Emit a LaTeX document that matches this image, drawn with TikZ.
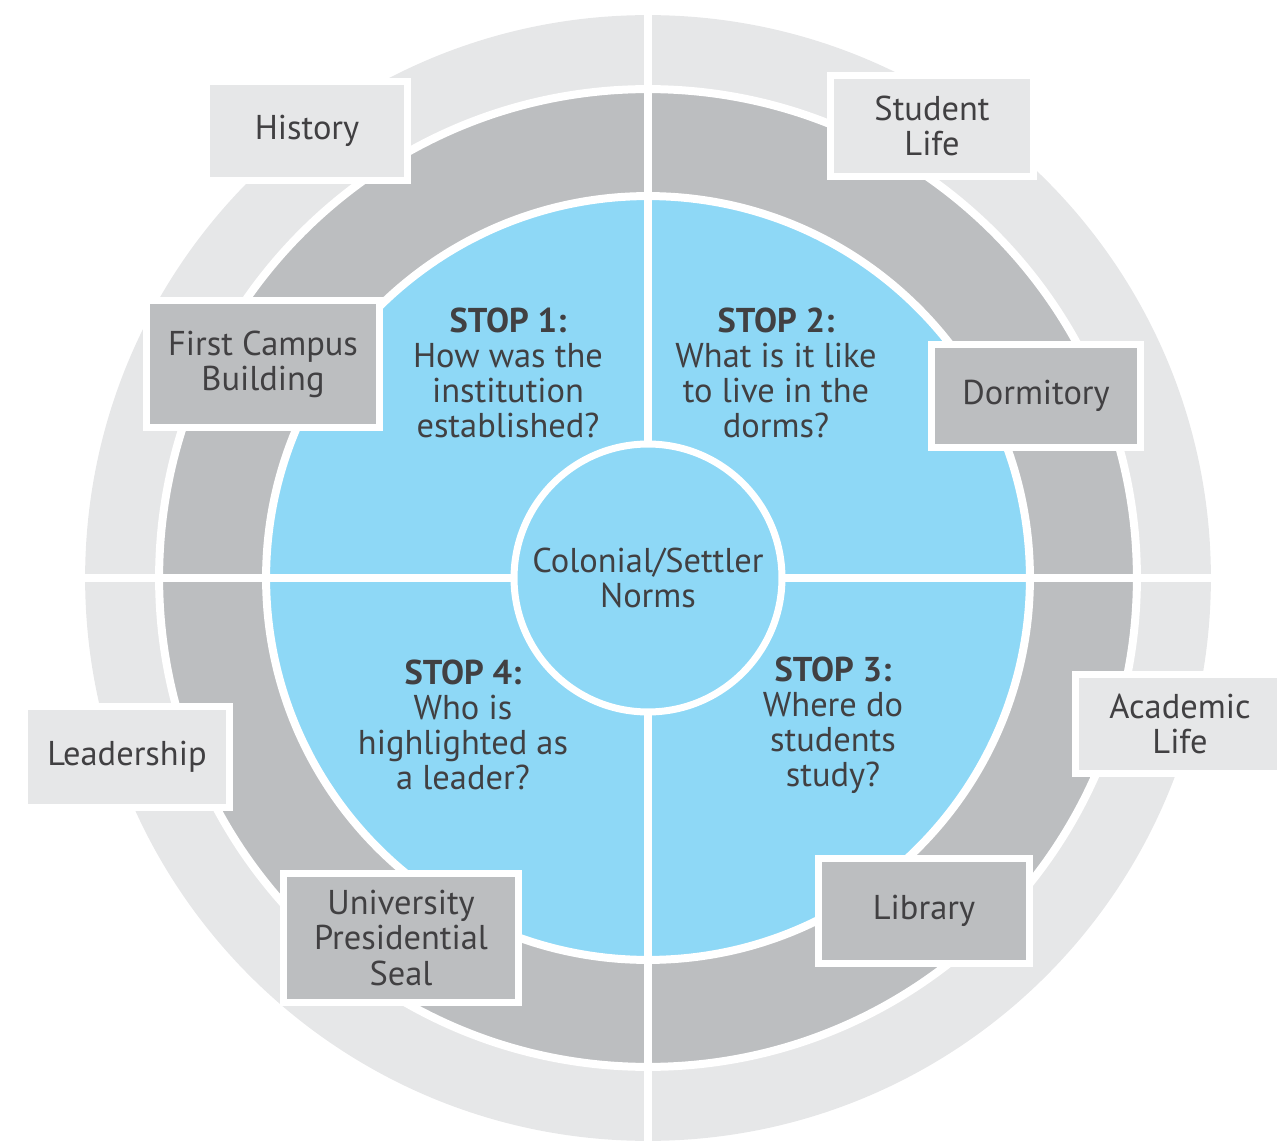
\documentclass[tikz,border=0pt]{standalone}
\usepackage{fontspec}
\setmainfont{PT Sans}
\usepackage{tikz}
\usetikzlibrary{calc}

\definecolor{ringlight}{HTML}{E6E7E8}
\definecolor{ringdark}{HTML}{BCBEC0}
\definecolor{stopblue}{HTML}{8ED8F6}
\definecolor{inktext}{HTML}{414042}

\tikzset{
	gap/.style={draw=white,line width=0.16cm},
	areabox/.style={fill=ringlight,draw=white,line width=0.14cm,align=center,
		text=inktext,font=\fontsize{19.6}{20}\selectfont,inner sep=0pt},
	sitebox/.style={areabox,fill=ringdark},
	stoptext/.style={align=center,text=inktext,font=\fontsize{19.6}{20}\selectfont}
}

\begin{document}
\begin{tikzpicture}[x=0.02cm,y=-0.02cm]
		\useasboundingbox (0,0) rectangle (1277,1141);
		\coordinate (C) at (648,578);
		% rings
		\fill[ringlight] (C) circle (11.26cm);
		\filldraw[fill=ringdark,gap] (C) circle (9.78cm);
		\filldraw[fill=stopblue,gap] (C) circle (7.64cm);
		\draw[gap] (85,578) -- (1211,578)
			  (648,15) -- (648,1141);
		\node(core) [circle,fill=stopblue,draw=white,line width=0.14cm,minimum size=5.36cm,
			align=center,text=inktext,font=\fontsize{19.6}{20}\selectfont] at (C)
			{Colonial/Settler\\Norms};
		% questions
		\node(stop1) [stoptext] at (508,373) {\textbf{STOP 1:}\\How was the\\institution\\established?};
		\node(stop2) [stoptext] at (776,373) {\textbf{STOP 2:}\\What is it like\\to live in the\\dorms?};
		\node(stop3) [stoptext] at (833,725) {\textbf{STOP 3:}\\Where do\\students\\study?};
		\node(stop4) [stoptext] at (463,725) {\textbf{STOP 4:}\\Who is\\highlighted as\\a leader?};
		% outer labels
		\node(history) [areabox,minimum width=4.04cm,minimum height=2cm] at (307,131) {History};
		\node(student) [areabox,minimum width=4.08cm,minimum height=2.02cm] at (932,126) {Student\\Life};
		\node(academic) [areabox,minimum width=4.2cm,minimum height=2cm] at (1180,724) {Academic\\Life};
		\node(leader) [areabox,minimum width=4.12cm,minimum height=2.04cm] at (127,757) {Leadership};
		% sites
		\node(campus) [sitebox,minimum width=4.68cm,minimum height=2.56cm] at (263,364) {First Campus\\Building};
		\node(dorm) [sitebox,minimum width=4.2cm,minimum height=2.08cm] at (1036,396) {Dormitory};
		\node(library) [sitebox,minimum width=4.22cm,minimum height=2.1cm] at (924,911) {Library};
		\node(seal) [sitebox,minimum width=4.72cm,minimum height=2.58cm] at (401,938) {University\\Presidential\\Seal};
	\end{tikzpicture}
\end{document}
